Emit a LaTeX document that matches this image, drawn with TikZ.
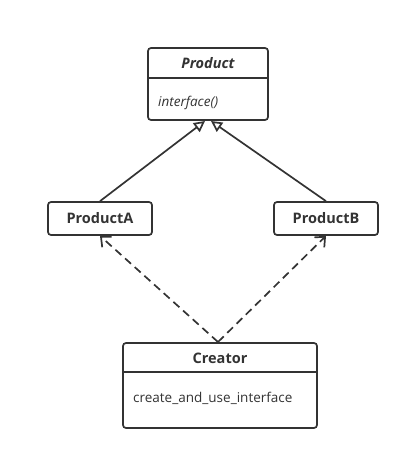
\documentclass[tikz,border=0pt]{standalone}
\usepackage{fontspec}
\setmainfont{Open Sans}
\usetikzlibrary{arrows.meta}
\definecolor{ink}{HTML}{333333}
\begin{document}
\begin{tikzpicture}[x=1pt,y=-1pt,
  box/.style={draw=ink, line width=1.7pt, rounded corners=3pt, inner sep=0pt, fill=white},
  title/.style={font=\fontsize{14.5}{16}\selectfont\bfseries, text=ink},
  body/.style={font=\fontsize{13.5}{16}\selectfont, text=ink, anchor=west, inner sep=0pt},
  gen/.style={draw=ink, line width=1.7pt, -{Triangle[open, length=11pt, width=11pt, line width=1.7pt]}},
  dep/.style={draw=ink, line width=1.7pt, dash pattern=on 8pt off 5pt, -{Straight Barb[length=8pt, width=14pt, line width=1.7pt]}}
]
\useasboundingbox (0,0) rectangle (410,460);
% Product
\node[box, minimum width=120pt, minimum height=72pt] (product) at (208,84) {};
\draw[ink, line width=1.7pt] (148,78) coordinate (pd1) -- (268,78) coordinate (pd2);
\node[title, font=\fontsize{14.5}{16}\selectfont\bfseries\itshape] (ptitle) at (208,63) {Product};
\node[body, font=\fontsize{13.5}{16}\selectfont\itshape] (pop) at (158,103) {interface()};
% ProductA, ProductB
\node[box, minimum width=104pt, minimum height=33pt, title] (pa) at (100,218.5) {ProductA};
\node[box, minimum width=104pt, minimum height=33pt, title] (pb) at (326,218.5) {ProductB};
% Creator
\node[box, minimum width=194pt, minimum height=85pt] (creator) at (220,385.5) {};
\draw[ink, line width=1.7pt] (123,372) coordinate (cd1) -- (317,372) coordinate (cd2);
\node[title] (ctitle) at (220,358) {Creator};
\node[body] (cop) at (133,398) {create\_and\_use\_interface};
% connectors
\coordinate (pal) at (205,121);
\coordinate (pbr) at (211,121);
\draw[gen] (pa.north) -- (pal);
\draw[gen] (pb.north) -- (pbr);
\coordinate (ctop) at (218,342);
\draw[dep] (ctop) -- (pa.south);
\draw[dep] (ctop) -- (pb.south);
\end{tikzpicture}
\end{document}
